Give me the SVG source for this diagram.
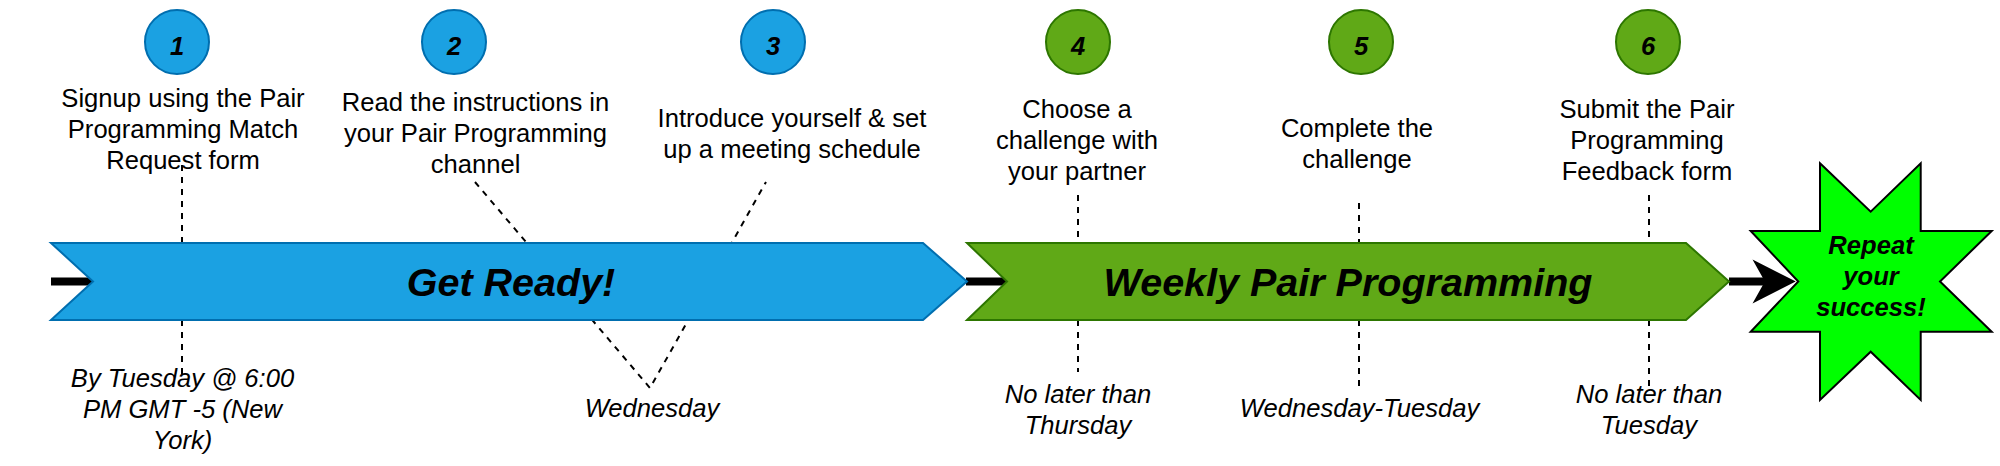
<svg xmlns="http://www.w3.org/2000/svg" width="2000" height="466" viewBox="0 0 2000 466">
<defs>
<style>
.t{font-family:"Liberation Sans",Arial,sans-serif;font-size:25.6px;fill:#000;text-anchor:middle}
.i{font-style:italic}
.b{font-weight:bold}
.big{font-family:"Liberation Sans",Arial,sans-serif;font-size:39.5px;font-weight:bold;font-style:italic;text-anchor:middle;fill:#000}
.dash{fill:none;stroke:#000;stroke-width:2;stroke-dasharray:6 6}
.thick{fill:none;stroke:#000;stroke-width:8}
.cb{fill:#1BA1E2;stroke:#006EAF;stroke-width:2}
.cg{fill:#60A917;stroke:#2D7600;stroke-width:2}
</style>
</defs>
<rect width="2000" height="466" fill="#fff"/>
<g id="connectors">
<line class="dash" x1="182" y1="165" x2="182" y2="243"/>
<line class="dash" x1="182" y1="320" x2="182" y2="377"/>
<polyline class="dash" points="475,182 650,388 766,182"/>
<line class="dash" x1="1078" y1="195" x2="1078" y2="243"/>
<line class="dash" x1="1078" y1="320" x2="1078" y2="372"/>
<line class="dash" x1="1359" y1="203" x2="1359" y2="243"/>
<line class="dash" x1="1359" y1="320" x2="1359" y2="390"/>
<line class="dash" x1="1649" y1="195" x2="1649" y2="243"/>
<line class="dash" x1="1649" y1="320" x2="1649" y2="387"/>
<line class="thick" x1="51" y1="281.5" x2="92" y2="281.5"/>
<line class="thick" x1="966" y1="281.5" x2="1007" y2="281.5"/>
<line class="thick" x1="1729" y1="281.5" x2="1768" y2="281.5"/>
<polygon points="1793.5,281.5 1755,262 1766,281.5 1755,301" fill="#000" stroke="#000" stroke-width="2" stroke-linejoin="miter"/>
</g>
<g id="band-get-ready">
<polygon class="cb" points="51,243 923,243 967,281.5 923,320 51,320 93,281.5"/>
<text class="big" x="511" y="296">Get Ready!</text>
</g>
<g id="band-weekly">
<polygon class="cg" points="967,243 1686,243 1729,281.5 1686,320 967,320 1007,281.5"/>
<text class="big" x="1348" y="296">Weekly Pair Programming</text>
</g>
<g id="star">
<polygon points="1820,163.3 1870.7,211.7 1920.7,163.3 1920.7,231 1991.7,231 1940,281.5 1991.7,331.7 1920.7,331.7 1920.7,400 1870.7,351.7 1820,400 1820,331.7 1750.7,331.7 1798.3,281.5 1750.7,231 1820,231" fill="#00FF00" stroke="#000" stroke-width="2"/>
<text class="t b i" x="1871" y="254">Repeat</text>
<text class="t b i" x="1871" y="285">your</text>
<text class="t b i" x="1871" y="316">success!</text>
</g>
<g id="step1">
<circle class="cb" cx="177" cy="42" r="32"/>
<text class="t b i" x="177" y="55">1</text>
<text class="t" x="183" y="106.5">Signup using the Pair</text>
<text class="t" x="183" y="137.5">Programming Match</text>
<text class="t" x="183" y="168.5">Request form</text>
<text class="t i" x="182.5" y="387">By Tuesday @ 6:00</text>
<text class="t i" x="182.5" y="418">PM GMT -5 (New</text>
<text class="t i" x="182.5" y="449">York)</text>
</g>
<g id="step2">
<circle class="cb" cx="454" cy="42" r="32"/>
<text class="t b i" x="454" y="55">2</text>
<text class="t" x="475.5" y="111">Read the instructions in</text>
<text class="t" x="475.5" y="142">your Pair Programming</text>
<text class="t" x="475.5" y="173">channel</text>
</g>
<g id="step3">
<circle class="cb" cx="773" cy="42" r="32"/>
<text class="t b i" x="773" y="55">3</text>
<text class="t" x="792" y="127">Introduce yourself &amp; set</text>
<text class="t" x="792" y="158">up a meeting schedule</text>
</g>
<g id="label-wednesday">
<text class="t i" x="652" y="417">Wednesday</text>
</g>
<g id="step4">
<circle class="cg" cx="1078" cy="42" r="32"/>
<text class="t b i" x="1078" y="55">4</text>
<text class="t" x="1077" y="118">Choose a</text>
<text class="t" x="1077" y="149">challenge with</text>
<text class="t" x="1077" y="180">your partner</text>
<text class="t i" x="1078" y="403">No later than</text>
<text class="t i" x="1078" y="434">Thursday</text>
</g>
<g id="step5">
<circle class="cg" cx="1361" cy="42" r="32"/>
<text class="t b i" x="1361" y="55">5</text>
<text class="t" x="1357" y="137">Complete the</text>
<text class="t" x="1357" y="168">challenge</text>
<text class="t i" x="1359.5" y="417">Wednesday-Tuesday</text>
</g>
<g id="step6">
<circle class="cg" cx="1648" cy="42" r="32"/>
<text class="t b i" x="1648" y="55">6</text>
<text class="t" x="1647" y="118">Submit the Pair</text>
<text class="t" x="1647" y="149">Programming</text>
<text class="t" x="1647" y="180">Feedback form</text>
<text class="t i" x="1649" y="403">No later than</text>
<text class="t i" x="1649" y="434">Tuesday</text>
</g>
</svg>
